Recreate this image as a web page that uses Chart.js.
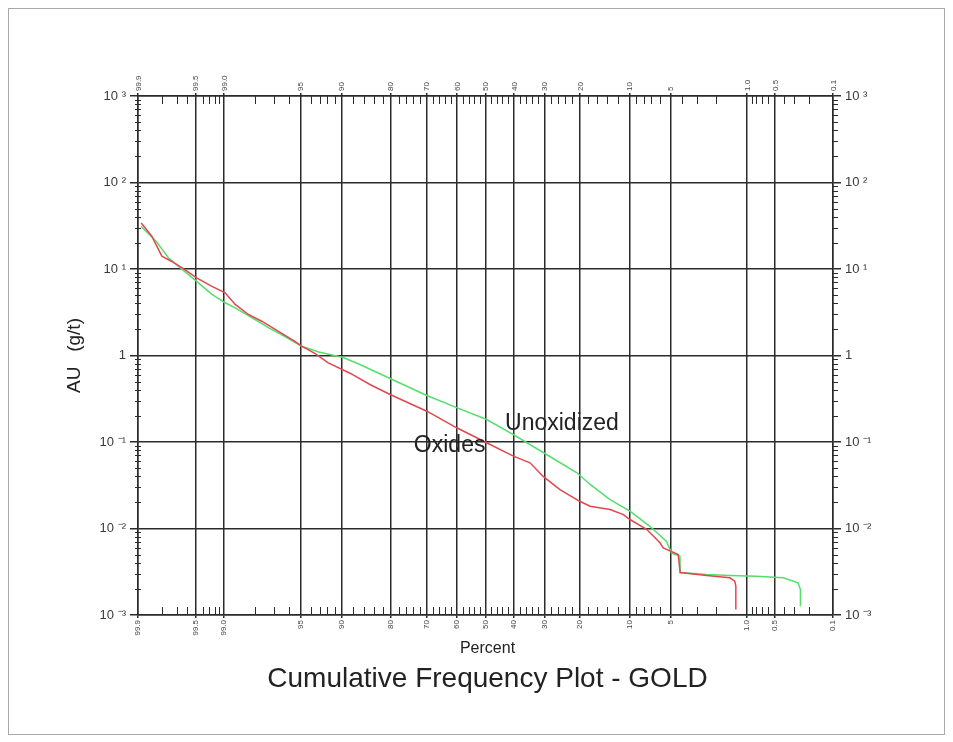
<!DOCTYPE html>
<html>
<head>
<meta charset="utf-8">
<script src="https://cdn.jsdelivr.net/npm/chart.js@4.4.1/dist/chart.umd.min.js"></script>
<style>
    html, body { margin: 0; padding: 0; background: #fff; }
    #wrap { width: 953px; height: 742px; position: relative; }
</style>
</head>
<body>
<div id="wrap"><canvas id="freqChart"></canvas></div>
<script>
/* ================= DATA ================= */
const majorPercents = [99.9, 99.5, 99, 95, 90, 80, 70, 60, 50, 40, 30, 20, 10, 5, 1, 0.5, 0.1];
const majorLabels = ['99.9', '99.5', '99.0', '95', '90', '80', '70', '60', '50', '40', '30', '20', '10', '5', '1.0', '0.5', '0.1'];
const minorPercents = [99.8, 99.7, 99.6, 99.4, 99.3, 99.2, 99.1, 98, 97, 96, 94, 93, 92, 91,
    88, 86, 84, 82, 78, 76, 74, 72, 68, 66, 64, 62, 58, 56, 54, 52, 48, 46, 44, 42,
    38, 36, 34, 32, 28, 26, 24, 22, 18, 16, 14, 12, 9, 8, 7, 6, 4, 3, 2, 0.9, 0.8, 0.7, 0.6, 0.4, 0.3, 0.2];
const decadeValues = [1e-3, 1e-2, 1e-1, 1, 1e1, 1e2, 1e3];
const decadeLabels = ['10 \u207B\u00B3', '10 \u207B\u00B2', '10 \u207B\u00B9', '1', '10 \u00B9', '10 \u00B2', '10 \u00B3'];

const oxidesPercent = [99.89, 99.85, 99.8, 99.74, 99.65, 99.49, 99.25, 98.97, 98.7, 98.25, 97.67, 96.93,
    95.5, 94.9, 93.5, 91.9, 88.5, 84.8, 80.2, 69.9, 60.1, 49.6, 40.2, 34.6, 30.4, 25.4, 20.0, 17.6,
    13.4, 11.0, 9.95, 7.6, 6.04, 5.7, 4.33, 4.17, 2.46, 1.49, 1.33, 1.30, 1.30];
const oxidesAu = [34, 23.9, 14.1, 12.3, 10.3, 7.9, 6.3, 5.3, 3.9, 2.98, 2.49, 2.0,
    1.46, 1.28, 1.05, 0.82, 0.62, 0.462, 0.354, 0.227, 0.146, 0.098, 0.0686, 0.0575, 0.040, 0.0282, 0.0205, 0.0181,
    0.0166, 0.0145, 0.0127, 0.0098, 0.00683, 0.00598, 0.00501, 0.0031, 0.00286, 0.00269, 0.00246, 0.00215, 0.00116];

const unoxPercent = [99.89, 99.83, 99.76, 99.65, 99.49, 99.25, 98.97, 98.7, 98.1, 97.3, 96.3, 94.9,
    93.1, 89.7, 86.8, 80.2, 69.9, 60.1, 49.6, 40.2, 30.4, 20.9, 17.6, 13.4, 9.95, 7.19, 5.37,
    4.9, 4.19, 4.17, 2.46, 1.49, 0.80, 0.406, 0.272, 0.255, 0.255];
const unoxAu = [31, 20.9, 13.5, 9.9, 7.2, 5.1, 4.07, 3.56, 2.73, 2.09, 1.67, 1.28,
    1.10, 0.948, 0.787, 0.542, 0.345, 0.25, 0.182, 0.122, 0.0756, 0.0444, 0.0323, 0.0216, 0.0159, 0.0106, 0.0071,
    0.0052, 0.0048, 0.0031, 0.00294, 0.00286, 0.00281, 0.00269, 0.00235, 0.00197, 0.00126];

// text labels anchored in data terms (percent, AU)
const oxidesLabelAt = [73.8, 0.091];
const unoxLabelAt = [43.1, 0.164];

/* ================= HELPERS ================= */
// inverse normal CDF (Acklam) - turns percent into the probability-paper position
function probit(p) {
    const a = [-3.969683028665376e+01, 2.209460984245205e+02, -2.759285104469687e+02, 1.383577518672690e+02, -3.066479806614716e+01, 2.506628277459239e+00];
    const b = [-5.447609879822406e+01, 1.615858368580409e+02, -1.556989798598866e+02, 6.680131188771972e+01, -1.328068155288572e+01];
    const c = [-7.784894002430293e-03, -3.223964580411365e-01, -2.400758277161838e+00, -2.549732539343734e+00, 4.374664141464968e+00, 2.938163982698783e+00];
    const d = [7.784695709041462e-03, 3.224671290700398e-01, 2.445134137142996e+00, 3.754408661907416e+00];
    const pl = 0.02425;
    let q, r;
    if (p < pl) {
        q = Math.sqrt(-2 * Math.log(p));
        return (((((c[0] * q + c[1]) * q + c[2]) * q + c[3]) * q + c[4]) * q + c[5]) / ((((d[0] * q + d[1]) * q + d[2]) * q + d[3]) * q + 1);
    }
    if (p <= 1 - pl) {
        q = p - 0.5; r = q * q;
        return (((((a[0] * r + a[1]) * r + a[2]) * r + a[3]) * r + a[4]) * r + a[5]) * q / (((((b[0] * r + b[1]) * r + b[2]) * r + b[3]) * r + b[4]) * r + 1);
    }
    q = Math.sqrt(-2 * Math.log(1 - p));
    return -(((((c[0] * q + c[1]) * q + c[2]) * q + c[3]) * q + c[4]) * q + c[5]) / ((((d[0] * q + d[1]) * q + d[2]) * q + d[3]) * q + 1);
}
const pz = pct => probit(pct / 100);
const toPoints = (pcts, vals) => pcts.map((p, i) => ({ x: pz(p), y: vals[i] }));

const FONT = "'Liberation Sans', Arial, sans-serif";
const INK = '#2b2b2b';
const zMin = pz(0.1), zMax = pz(99.9);

const xScaleBase = {
    type: 'linear',
    min: zMin,
    max: zMax,
    reverse: true,
    afterBuildTicks: s => { s.ticks = majorPercents.map(p => ({ value: pz(p) })); },
    border: { display: true, color: INK, width: 1.5 }
};
const xTickBase = {
    autoSkip: false,
    minRotation: 90,
    maxRotation: 90,
    padding: 2,
    color: '#444',
    font: { family: FONT, size: 8 },
    callback: (v, i) => majorLabels[i]
};

const yScaleBase = {
    type: 'logarithmic',
    min: 1e-3,
    max: 1e3,
    afterBuildTicks: s => { s.ticks = decadeValues.map(v => ({ value: v })); },
    ticks: {
        autoSkip: false,
        padding: 4,
        color: '#3a3a3a',
        font: { family: FONT, size: 13 },
        callback: (v, i) => decadeLabels[i]
    },
    border: { display: true, color: INK, width: 1.5 }
};

/* ================= DECORATION PLUGIN ================= */
const paperPlugin = {
    id: 'paper',
    afterDraw(chart) {
        const ctx = chart.ctx;
        const area = chart.chartArea;
        const xs = chart.scales.x, ys = chart.scales.y;
        ctx.save();

        // outer frame
        ctx.strokeStyle = '#a8a8a8';
        ctx.lineWidth = 1;
        ctx.strokeRect(8.5, 8.5, 936, 726);

        // minor percent ticks, top and bottom
        ctx.strokeStyle = INK;
        ctx.lineWidth = 1;
        ctx.beginPath();
        minorPercents.forEach(p => {
            const px = Math.round(xs.getPixelForValue(pz(p))) + 0.5;
            ctx.moveTo(px, area.bottom); ctx.lineTo(px, area.bottom - 8);
            ctx.moveTo(px, area.top); ctx.lineTo(px, area.top + 8);
        });
        // minor log ticks, left and right
        for (let e = -3; e < 3; e++) {
            for (let m = 2; m <= 9; m++) {
                const py = Math.round(ys.getPixelForValue(m * Math.pow(10, e))) + 0.5;
                ctx.moveTo(area.left - 3, py); ctx.lineTo(area.left + 3, py);
                ctx.moveTo(area.right, py); ctx.lineTo(area.right + 5, py);
            }
        }
        ctx.stroke();

        ctx.fillStyle = '#222';
        // y title
        ctx.save();
        ctx.translate(75, (area.top + area.bottom) / 2);
        ctx.rotate(-Math.PI / 2);
        ctx.font = '19px ' + FONT;
        ctx.textAlign = 'center';
        ctx.textBaseline = 'middle';
        ctx.fillText('AU \u2002(g/t)', 0, 0);
        ctx.restore();

        // x title and chart title
        ctx.textAlign = 'center';
        ctx.textBaseline = 'middle';
        ctx.font = '16px ' + FONT;
        ctx.fillText('Percent', (area.left + area.right) / 2 + 2, 649);
        ctx.font = '28px ' + FONT;
        ctx.fillText('Cumulative Frequency Plot - GOLD', (area.left + area.right) / 2 + 2, 679);

        // series labels
        ctx.textAlign = 'left';
        ctx.font = '23px ' + FONT;
        ctx.fillText('Oxides', xs.getPixelForValue(pz(oxidesLabelAt[0])), ys.getPixelForValue(oxidesLabelAt[1]));
        ctx.fillText('Unoxidized', xs.getPixelForValue(pz(unoxLabelAt[0])), ys.getPixelForValue(unoxLabelAt[1]));
        ctx.restore();
    }
};

/* ================= CHART ================= */
new Chart(document.getElementById('freqChart'), {
    type: 'scatter',
    data: {
        datasets: [
            {
                label: 'Oxides',
                data: toPoints(oxidesPercent, oxidesAu),
                showLine: true,
                borderColor: '#e2474f',
                borderWidth: 1.5,
                pointRadius: 0,
                tension: 0
            },
            {
                label: 'Unoxidized',
                data: toPoints(unoxPercent, unoxAu),
                showLine: true,
                borderColor: '#52df6c',
                borderWidth: 1.5,
                pointRadius: 0,
                tension: 0
            }
        ]
    },
    options: {
        responsive: true,
        maintainAspectRatio: false,
        animation: false,
        layout: { padding: 0 },
        plugins: {
            legend: { display: false },
            tooltip: { enabled: false }
        },
        scales: {
            x: {
                ...xScaleBase,
                position: 'bottom',
                ticks: { ...xTickBase },
                afterFit: s => { s.height = 127; },
                grid: { color: INK, lineWidth: 1.5, tickLength: 3, drawOnChartArea: true }
            },
            x2: {
                ...xScaleBase,
                display: true,
                position: 'top',
                ticks: { ...xTickBase, labelOffset: 10 },
                afterFit: s => { s.height = 96; },
                grid: { color: INK, lineWidth: 1.5, tickLength: 3, drawOnChartArea: false }
            },
            y: {
                ...yScaleBase,
                position: 'left',
                afterFit: s => { s.width = 138; },
                grid: { color: INK, lineWidth: 1.5, tickLength: 8, drawOnChartArea: true }
            },
            y2: {
                ...yScaleBase,
                display: true,
                position: 'right',
                afterFit: s => { s.width = 120; },
                grid: { color: INK, lineWidth: 1.5, tickLength: 8, drawOnChartArea: false }
            }
        }
    },
    plugins: [paperPlugin]
});
</script>
</body>
</html>
